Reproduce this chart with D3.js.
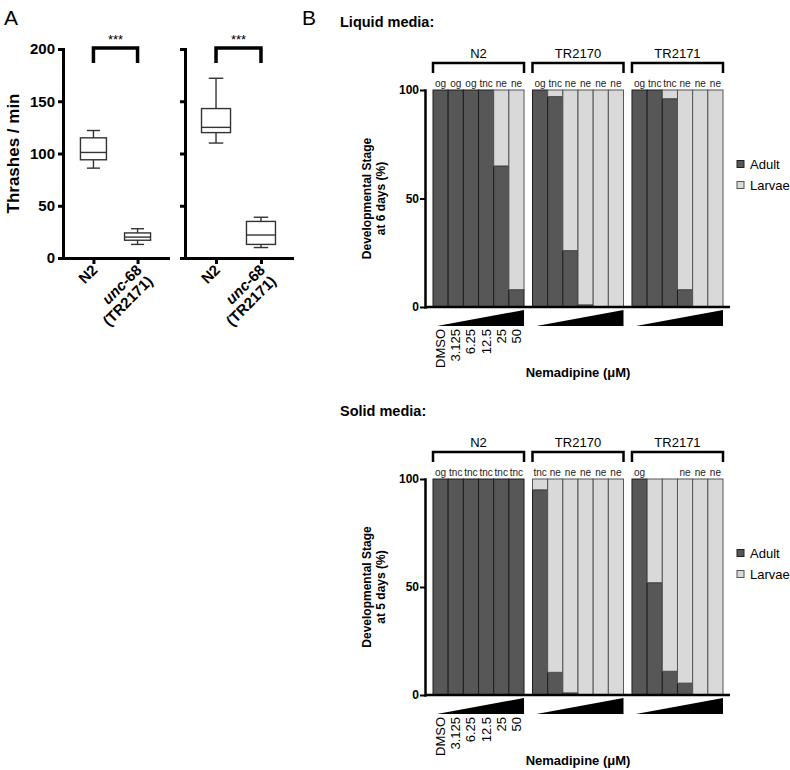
<!DOCTYPE html>
<html>
<head>
<meta charset="utf-8">
<script src="https://cdn.jsdelivr.net/npm/d3@7"></script>
<style>
body{margin:0;background:#fff;}
svg{font-family:"Liberation Sans",Arial,Helvetica,sans-serif;}
</style>
</head>
<body>
<svg width="790" height="770"></svg>
<script>
// panel A data: [min, q1, median, q3, max]
const thrashGroups = ["N2", "unc-68"];
const thrashTicks = [0, 50, 100, 150, 200];
const thrashLeft = [[86, 94, 101, 115, 122], [13, 17, 20, 24, 28]];
const thrashRight = [[110, 120, 125, 143, 172], [10, 13, 22, 35, 39]];

// panel B data
const strains = ["N2", "TR2170", "TR2171"];
const doses = ["DMSO", "3.125", "6.25", "12.5", "25", "50"];
const stageTicks = [0, 50, 100];

const liquidAdultN2 = [100, 100, 100, 100, 65, 8];
const liquidAdultTR2170 = [100, 97, 26, 1, 0, 0];
const liquidAdultTR2171 = [100, 100, 96, 8, 0, 0];
const liquidStageN2 = ["og", "og", "og", "tnc", "ne", "ne"];
const liquidStageTR2170 = ["og", "tnc", "ne", "ne", "ne", "ne"];
const liquidStageTR2171 = ["og", "tnc", "tnc", "ne", "ne", "ne"];

const solidAdultN2 = [100, 100, 100, 100, 100, 100];
const solidAdultTR2170 = [95, 10.5, 1, 0, 0, 0];
const solidAdultTR2171 = [100, 52, 11, 5.5, 0, 0];
const solidStageN2 = ["og", "tnc", "tnc", "tnc", "tnc", "tnc"];
const solidStageTR2170 = ["tnc", "ne", "ne", "ne", "ne", "ne"];
const solidStageTR2171 = ["og", "", "", "ne", "ne", "ne"];

const adultColor = "#575757";
const larvaeColor = "#d9d9d9";

let svg = d3.select('svg');

// ---------- panel A ----------
svg.append('text').attr('x', 4).attr('y', 25).attr('font-size', 21).text('A');

let yA = d3.scaleLinear().domain([0, 200]).range([258, 49]);

svg.append('text')
  .attr('transform', `translate(19,${(yA(0) + yA(200)) / 2}) rotate(-90)`)
  .attr('text-anchor', 'middle').attr('font-size', 17).attr('font-weight', 'bold')
  .text('Thrashes / min');

function boxPanel(x0, x1, stats, showLabels, boxW) {
  let g = svg.append('g');
  let x = d3.scalePoint().domain(thrashGroups).range([x0, x1]).padding(0.69);

  let ya = g.append('g').attr('transform', `translate(${x0},0)`)
    .call(d3.axisLeft(yA).tickValues(thrashTicks).tickSize(5).tickSizeOuter(0)
      .tickFormat(showLabels ? d3.format('d') : ''));
  ya.attr('font-family', null).attr('font-size', 15).attr('font-weight', 'bold');
  ya.select('.domain').attr('stroke-width', 3).attr('stroke-linecap', 'square');
  ya.selectAll('.tick line').attr('stroke-width', 3);
  ya.selectAll('.tick text').attr('x', -8);

  let xa = g.append('g').attr('transform', `translate(0,${yA(0)})`)
    .call(d3.axisBottom(x).tickSize(6).tickSizeOuter(0).tickFormat(''));
  xa.select('.domain').attr('stroke-width', 3).attr('stroke-linecap', 'square');
  xa.selectAll('.tick line').attr('stroke-width', 3);

  // x labels, rotated
  thrashGroups.forEach(function (k) {
    let t = g.append('text')
      .attr('transform', `translate(${x(k) + 5},${yA(0) + 13}) rotate(-45)`)
      .attr('text-anchor', 'end').attr('font-size', 15).attr('font-weight', 'bold');
    if (k === 'N2') {
      t.text('N2');
    } else {
      t.append('tspan').attr('x', 0).attr('font-style', 'italic').text('unc');
      t.append('tspan').text('-68');
      t.append('tspan').attr('x', 0).attr('dy', '1.05em').text('(TR2171)');
    }
  });

  // boxes
  let bx = g.selectAll('g.box').data(stats).enter().append('g')
    .attr('transform', function (d, i) { return `translate(${x(thrashGroups[i])},0)`; })
    .attr('stroke', '#333').attr('stroke-width', 1.4).attr('fill', 'none');
  bx.append('line').attr('y1', function (d) { return yA(d[0]); }).attr('y2', function (d) { return yA(d[1]); });
  bx.append('line').attr('y1', function (d) { return yA(d[3]); }).attr('y2', function (d) { return yA(d[4]); });
  bx.append('line').attr('x1', -boxW / 4).attr('x2', boxW / 4)
    .attr('y1', function (d) { return yA(d[0]); }).attr('y2', function (d) { return yA(d[0]); });
  bx.append('line').attr('x1', -boxW / 4).attr('x2', boxW / 4)
    .attr('y1', function (d) { return yA(d[4]); }).attr('y2', function (d) { return yA(d[4]); });
  bx.append('rect').attr('x', -boxW / 2).attr('width', boxW)
    .attr('y', function (d) { return yA(d[3]); })
    .attr('height', function (d) { return yA(d[1]) - yA(d[3]); });
  bx.append('line').attr('x1', -boxW / 2).attr('x2', boxW / 2)
    .attr('y1', function (d) { return yA(d[2]); }).attr('y2', function (d) { return yA(d[2]); });

  // significance bracket
  let top = yA(200) - 1;
  g.append('path')
    .attr('d', `M${x('N2')},${top + 15}V${top}H${x('unc-68')}V${top + 15}`)
    .attr('fill', 'none').attr('stroke', '#000').attr('stroke-width', 3.5);
  g.append('text').attr('x', (x('N2') + x('unc-68')) / 2).attr('y', top - 4)
    .attr('text-anchor', 'middle').attr('font-size', 13).text('***');
}

boxPanel(63, 168, thrashLeft, true, 26);
boxPanel(185, 292, thrashRight, false, 29);

// ---------- panel B ----------
svg.append('text').attr('x', 302).attr('y', 25).attr('font-size', 21).text('B');

let xGroup = d3.scaleBand().domain(strains).range([433, 723]).paddingInner(0.085).paddingOuter(0);
let xBar = d3.scaleBand().domain(doses).range([0, xGroup.bandwidth()]).padding(0);

function stagePanel(yTop, yBottom, mediaLabel, dayLabel, adultLists, stageLists) {
  let y = d3.scaleLinear().domain([0, 100]).range([yBottom, yTop]);
  let g = svg.append('g');

  g.append('text').attr('x', 340).attr('y', y(100) - 63)
    .attr('font-size', 14.5).attr('font-weight', 'bold').text(mediaLabel);

  // y title
  let yt = g.append('text')
    .attr('transform', `translate(371,${(y(0) + y(100)) / 2}) rotate(-90)`)
    .attr('text-anchor', 'middle').attr('font-size', 12).attr('font-weight', 'bold');
  yt.append('tspan').attr('x', 0).text('Developmental Stage');
  yt.append('tspan').attr('x', 0).attr('dy', 14).text(dayLabel);

  strains.forEach(function (s, si) {
    let gx = xGroup(s);
    let rows = doses.map(function (d, i) {
      return { dose: d, adult: adultLists[si][i], larvae: 100 - adultLists[si][i], stage: stageLists[si][i] };
    });
    let stack = d3.stack().keys(['adult', 'larvae'])(rows);
    let sg = g.append('g').attr('transform', `translate(${gx},0)`);
    sg.selectAll('g.layer').data(stack).enter().append('g')
      .attr('fill', function (d) { return d.key === 'adult' ? adultColor : larvaeColor; })
      .attr('stroke', function (d) { return d.key === 'adult' ? '#1e1e1e' : '#555'; })
      .attr('stroke-width', 1)
      .selectAll('rect').data(function (d) { return d.filter(function (p) { return p[1] > p[0]; }); })
      .enter().append('rect')
      .attr('x', function (d) { return xBar(d.data.dose); })
      .attr('width', xBar.bandwidth())
      .attr('y', function (d) { return y(d[1]); })
      .attr('height', function (d) { return y(d[0]) - y(d[1]); });

    // stage labels
    sg.selectAll('text.stage').data(rows).enter().append('text')
      .attr('x', function (d) { return xBar(d.dose) + xBar.bandwidth() / 2; })
      .attr('y', y(100) - 3)
      .attr('text-anchor', 'middle').attr('font-size', 10).attr('fill', '#222')
      .text(function (d) { return d.stage; });

    // bracket and strain name
    let bw = xGroup.bandwidth();
    sg.append('path')
      .attr('d', `M0,${y(100) - 17}V${y(100) - 27}H${bw}V${y(100) - 17}`)
      .attr('fill', 'none').attr('stroke', '#000').attr('stroke-width', 2.5);
    sg.append('text').attr('x', bw / 2).attr('y', y(100) - 32)
      .attr('text-anchor', 'middle').attr('font-size', 13).text(s);

    // dose triangle
    sg.append('path')
      .attr('d', `M4,${y(0) + 19}H${bw}V${y(0) + 3}Z`).attr('fill', '#000');

    if (si === 0) {
      sg.selectAll('text.dose').data(doses).enter().append('text')
        .attr('transform', function (d) {
          return `translate(${xBar(d) + xBar.bandwidth() / 2 + 4.5},${y(0) + 22}) rotate(-90)`;
        })
        .attr('text-anchor', 'end').attr('font-size', 13).text(function (d) { return d; });
    }
  });

  // axes
  let ya = g.append('g').attr('transform', `translate(425,0)`)
    .call(d3.axisLeft(y).tickValues(stageTicks).tickSize(5).tickSizeOuter(0));
  ya.attr('font-family', null).attr('font-size', 12).attr('font-weight', 'bold');
  ya.select('.domain').attr('stroke-width', 2.5).attr('stroke-linecap', 'square');
  ya.selectAll('.tick line').attr('stroke-width', 2);
  ya.selectAll('.tick text').attr('x', -6);

  g.append('line').attr('x1', 425).attr('x2', 730).attr('y1', y(0)).attr('y2', y(0))
    .attr('stroke', '#000').attr('stroke-width', 2.5);

  g.append('text').attr('x', 578).attr('y', y(0) + 70)
    .attr('text-anchor', 'middle').attr('font-size', 13).attr('font-weight', 'bold')
    .text('Nemadipine (\u03BCM)');

  // legend
  let legend = [['Adult', adultColor, '#222'], ['Larvae', larvaeColor, '#555']];
  let lg = g.selectAll('g.legend').data(legend).enter().append('g')
    .attr('transform', function (d, i) { return `translate(737,${y(100) + 74 + i * 21})`; });
  lg.append('rect').attr('x', 0).attr('y', -3.5).attr('width', 7).attr('height', 7)
    .attr('fill', function (d) { return d[1]; }).attr('stroke', function (d) { return d[2]; });
  lg.append('text').attr('x', 13).attr('y', 4.5).attr('font-size', 13)
    .text(function (d) { return d[0]; });
}

stagePanel(90, 307, 'Liquid media:', 'at 6 days (%)',
  [liquidAdultN2, liquidAdultTR2170, liquidAdultTR2171],
  [liquidStageN2, liquidStageTR2170, liquidStageTR2171]);
stagePanel(479, 695, 'Solid media:', 'at 5 days (%)',
  [solidAdultN2, solidAdultTR2170, solidAdultTR2171],
  [solidStageN2, solidStageTR2170, solidStageTR2171]);
</script>
</body>
</html>
